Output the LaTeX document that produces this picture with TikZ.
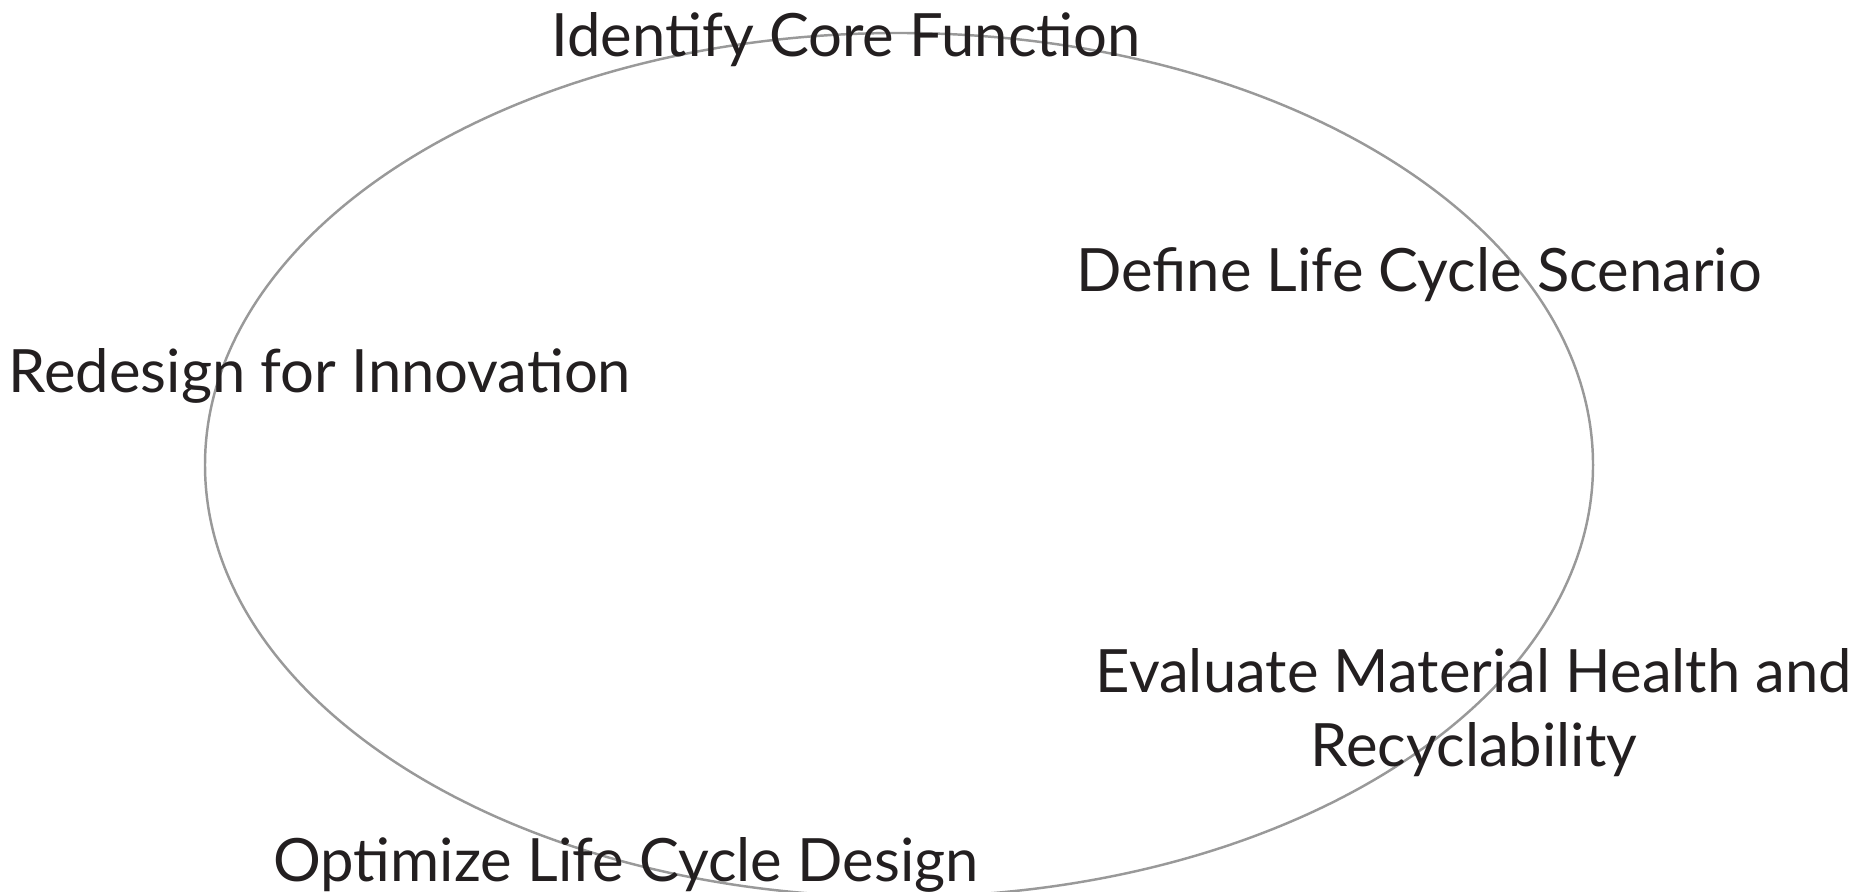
\documentclass[tikz,border=0pt]{standalone}
\usepackage{fontspec}
\setmainfont{Lato}
\definecolor{ink}{HTML}{231F20}
\definecolor{ring}{HTML}{999999}

\begin{document}
\begin{tikzpicture}[x=0.1mm,y=-0.1mm,
  stage/.style={text=ink,font=\fontsize{17}{21}\selectfont,inner sep=0pt,anchor=base,align=center}]
\useasboundingbox (0,0) rectangle (1858,892);
% Cycle ring
\draw[ring,line width=0.7pt] (899,465) ellipse [x radius=694,y radius=432];
% Stages round the ring
\node[stage] (core) at (846,57) {Identify Core Function};
\node[stage] (scenario) at (1419,292) {Define Life Cycle Scenario};
\node[stage] (health) at (1474,766) {Evaluate Material Health and\\Recyclability};
\node[stage] (optimize) at (626,881) {Optimize Life Cycle Design};
\node[stage] (redesign) at (320,393) {Redesign for Innovation};
\end{tikzpicture}
\end{document}
